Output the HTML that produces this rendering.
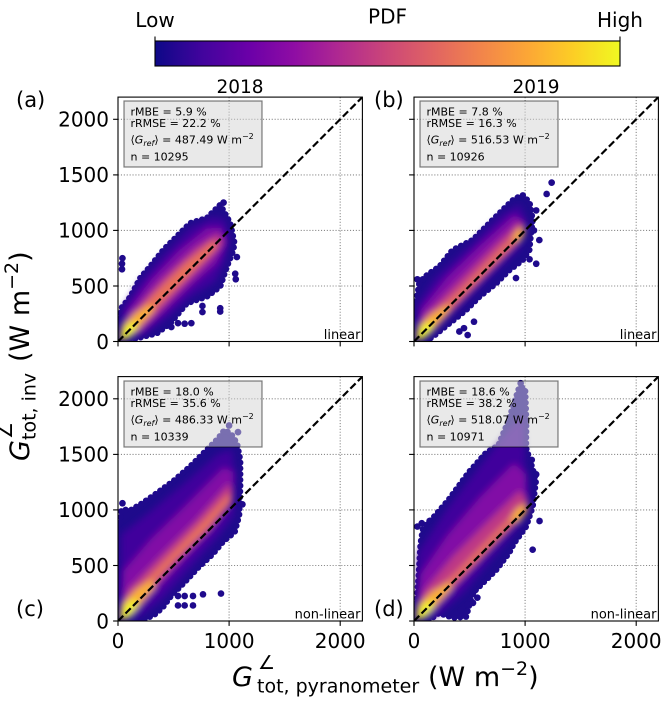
<!DOCTYPE html>
<html><head><meta charset="utf-8">
<style>
html,body{margin:0;padding:0;background:#fff;}
svg{display:block;}
text{font-family:"DejaVu Sans","Liberation Sans",sans-serif;fill:#000;}
.env{fill:#1f0a8c;stroke:#1f0a8c;stroke-width:20;stroke-linejoin:round;}
.edge{fill:none;stroke:#1f0a8c;stroke-width:58;stroke-dasharray:0 52;stroke-linecap:round;stroke-linejoin:round;}
.dot{fill:#1f0a8c;}
.l1{fill:#40039c;}
.l2{fill:#8108a6;}
.l3{fill:#bd3785;}
.l4{fill:#ea7256;}
.l5{fill:#fdb32f;}
.l6{fill:#f0f921;}
.grid{stroke:#8a8a8a;stroke-width:1.1;stroke-dasharray:1.1 1.8;fill:none;}
.spine{fill:none;stroke:#000;stroke-width:1.1;}
.tick{stroke:#000;stroke-width:1.1;}
.diag{stroke:#000;stroke-width:2.2;stroke-dasharray:7.4 3.2;fill:none;}
.box{fill:#d3d3d3;fill-opacity:0.5;stroke:#000;stroke-opacity:0.5;stroke-width:1.2;}
.st{font-size:11px;}
.tl{font-size:20px;}
</style></head>
<body>
<svg width="669" height="704" viewBox="0 0 669 704" xmlns="http://www.w3.org/2000/svg">
<defs>
<linearGradient id="plasma" x1="0" y1="0" x2="1" y2="0">
<stop offset="0" stop-color="#0d0887"/>
<stop offset="0.1" stop-color="#41049d"/>
<stop offset="0.2" stop-color="#6a00a8"/>
<stop offset="0.3" stop-color="#8f0da4"/>
<stop offset="0.4" stop-color="#b12a90"/>
<stop offset="0.5" stop-color="#cc4778"/>
<stop offset="0.6" stop-color="#e16462"/>
<stop offset="0.7" stop-color="#f2844b"/>
<stop offset="0.8" stop-color="#fca636"/>
<stop offset="0.9" stop-color="#fcce25"/>
<stop offset="1" stop-color="#f0f921"/>
</linearGradient>
<filter id="bl" x="-30%" y="-30%" width="160%" height="160%"><feGaussianBlur stdDeviation="30"/></filter>
<clipPath id="cA"><rect x="118" y="97.1" width="244.4" height="244.4"/></clipPath>
<clipPath id="cB"><rect x="414" y="97.1" width="244.4" height="244.4"/></clipPath>
<clipPath id="cC"><rect x="118" y="376.6" width="244.4" height="244.4"/></clipPath>
<clipPath id="cD"><rect x="414" y="376.6" width="244.4" height="244.4"/></clipPath>
</defs>

<!-- Colorbar -->
<rect x="155" y="41" width="465" height="25" fill="url(#plasma)" stroke="#000" stroke-width="1.1"/>
<line class="tick" x1="155" y1="36.5" x2="155" y2="41"/>
<line class="tick" x1="620" y1="36.5" x2="620" y2="41"/>
<text x="155" y="27" font-size="20" text-anchor="middle">Low</text>
<text x="620" y="27" font-size="20" text-anchor="middle">High</text>
<text x="387.5" y="23.5" font-size="20" text-anchor="middle">PDF</text>

<!-- Titles -->
<text x="240" y="93" font-size="18.5" text-anchor="middle">2018</text>
<text x="536" y="93" font-size="18.5" text-anchor="middle">2019</text>

<!-- Panel labels -->
<text x="16" y="107" font-size="21">(a)</text>
<text x="374" y="107" font-size="21">(b)</text>
<text x="16" y="616" font-size="21">(c)</text>
<text x="374" y="616" font-size="21">(d)</text>

<!-- ===== Panel A ===== -->
<g>
<line class="grid" x1="229.1" y1="97.1" x2="229.1" y2="341.5"/>
<line class="grid" x1="340.2" y1="97.1" x2="340.2" y2="341.5"/>
<line class="grid" x1="118" y1="286" x2="362.4" y2="286"/>
<line class="grid" x1="118" y1="230.4" x2="362.4" y2="230.4"/>
<line class="grid" x1="118" y1="174.9" x2="362.4" y2="174.9"/>
<line class="grid" x1="118" y1="119.3" x2="362.4" y2="119.3"/>
</g>
<g clip-path="url(#cA)">
<g transform="translate(118,341.5) scale(0.1111,-0.1111)">
<polygon class="env" points="0,0 0,80 30,300 110,400 200,570 290,675 410,825 530,945 650,1065 800,1110 920,1230 1010,1065 1045,900 1040,825 980,675 920,495 800,405 620,345 470,165 350,75 230,45 110,15"/>
<polygon class="edge" points="0,0 0,80 30,300 110,400 200,570 290,675 410,825 530,945 650,1065 800,1110 920,1230 1010,1065 1045,900 1040,825 980,675 920,495 800,405 620,345 470,165 350,75 230,45 110,15"/>
<circle class="dot" cx="36" cy="650" r="30"/><circle class="dot" cx="36" cy="700" r="30"/><circle class="dot" cx="40" cy="750" r="30"/>
<circle class="dot" cx="540" cy="165" r="30"/><circle class="dot" cx="600" cy="160" r="30"/><circle class="dot" cx="660" cy="165" r="30"/>
<circle class="dot" cx="760" cy="265" r="30"/><circle class="dot" cx="760" cy="320" r="30"/><circle class="dot" cx="920" cy="300" r="30"/>
<circle class="dot" cx="920" cy="270" r="30"/><circle class="dot" cx="1055" cy="610" r="30"/><circle class="dot" cx="1060" cy="560" r="30"/>
<circle class="dot" cx="950" cy="1250" r="30"/><circle class="dot" cx="480" cy="130" r="30"/><circle class="dot" cx="1070" cy="760" r="30"/>
<g filter="url(#bl)">
<polygon class="l1" points="20,20 40,290 200,540 420,790 650,1020 850,1120 960,1100 1000,930 960,720 870,540 650,400 450,220 250,70"/>
<polygon class="l2" points="30,30 90,270 300,560 550,820 800,1020 930,1020 970,880 880,700 650,500 420,280 200,80"/>
<polygon class="l3" points="40,40 140,260 400,560 700,840 900,970 950,900 830,750 550,470 300,210 120,60"/>
<polygon class="l4" points="40,30 110,180 300,400 600,700 860,910 900,860 680,640 360,320 160,100"/>
<polygon class="l5" points="15,10 40,130 150,250 280,330 330,290 200,150 80,25"/>
<polygon class="l6" points="20,15 60,130 150,180 180,140 90,30"/>
</g>
</g>
<line class="diag" x1="118" y1="341.5" x2="362.4" y2="97.1"/>
</g>
<rect class="spine" x="118" y="97.1" width="244.4" height="244.4"/>
<g class="tick">
<line x1="113.1" y1="341.5" x2="118" y2="341.5"/><line x1="113.1" y1="286" x2="118" y2="286"/><line x1="113.1" y1="230.4" x2="118" y2="230.4"/><line x1="113.1" y1="174.9" x2="118" y2="174.9"/><line x1="113.1" y1="119.3" x2="118" y2="119.3"/>
<line x1="118" y1="341.5" x2="118" y2="346.4"/><line x1="229.1" y1="341.5" x2="229.1" y2="346.4"/><line x1="340.2" y1="341.5" x2="340.2" y2="346.4"/>
</g>
<g class="tl" text-anchor="end">
<text x="109" y="348.8">0</text><text x="109" y="293.3">500</text><text x="109" y="237.7">1000</text><text x="109" y="182.2">1500</text><text x="109" y="126.6">2000</text>
</g>
<rect class="box" x="124" y="101" width="138" height="66"/>
<text class="st" x="130.5" y="115.5">rMBE = 5.9 %</text>
<text class="st" x="130.5" y="127">rRMSE = 22.2 %</text>
<text class="st" x="130.5" y="143.5">⟨<tspan font-style="italic">G</tspan><tspan font-style="italic" font-size="8" dy="2.5">ref</tspan><tspan dy="-2.5">⟩ = 487.49 W m</tspan><tspan font-size="8" dy="-4.5">−2</tspan></text>
<text class="st" x="130.5" y="160.5">n = 10295</text>
<text x="360.5" y="339" font-size="13" text-anchor="end">linear</text>

<!-- ===== Panel B ===== -->
<g>
<line class="grid" x1="525.1" y1="97.1" x2="525.1" y2="341.5"/>
<line class="grid" x1="636.2" y1="97.1" x2="636.2" y2="341.5"/>
<line class="grid" x1="414" y1="286" x2="658.4" y2="286"/>
<line class="grid" x1="414" y1="230.4" x2="658.4" y2="230.4"/>
<line class="grid" x1="414" y1="174.9" x2="658.4" y2="174.9"/>
<line class="grid" x1="414" y1="119.3" x2="658.4" y2="119.3"/>
</g>
<g clip-path="url(#cB)">
<g transform="translate(414,341.5) scale(0.1111,-0.1111)">
<polygon class="env" points="0,0 0,200 18,346 48,524 120,600 228,673 348,823 528,913 648,1033 828,1213 900,1280 978,1318 1040,1250 1068,1093 1050,950 1038,823 978,733 858,643 738,523 588,403 468,283 318,163 168,43 100,0"/>
<polygon class="edge" points="0,0 0,200 18,346 48,524 120,600 228,673 348,823 528,913 648,1033 828,1213 900,1280 978,1318 1040,1250 1068,1093 1050,950 1038,823 978,733 858,643 738,523 588,403 468,283 318,163 168,43 100,0"/>
<circle class="dot" cx="1239" cy="1430" r="30"/><circle class="dot" cx="1194" cy="1328" r="30"/><circle class="dot" cx="1128" cy="913" r="30"/>
<circle class="dot" cx="1100" cy="1180" r="30"/><circle class="dot" cx="1040" cy="740" r="30"/><circle class="dot" cx="918" cy="571" r="30"/>
<circle class="dot" cx="540" cy="178" r="30"/><circle class="dot" cx="483" cy="58" r="30"/><circle class="dot" cx="408" cy="90" r="30"/>
<circle class="dot" cx="450" cy="120" r="30"/><circle class="dot" cx="30" cy="560" r="30"/><circle class="dot" cx="80" cy="560" r="30"/>
<circle class="dot" cx="1080" cy="1000" r="30"/><circle class="dot" cx="1100" cy="700" r="30"/>
<g filter="url(#bl)">
<polygon class="l1" points="20,20 40,350 200,580 500,860 800,1150 950,1230 1010,1100 960,850 700,600 420,320 150,60"/>
<polygon class="l2" points="30,30 60,280 300,580 600,870 900,1140 1000,1060 910,860 620,560 320,260 110,60"/>
<polygon class="l3" points="40,40 90,220 400,540 700,840 950,1080 1000,1000 820,790 520,480 220,170 90,40"/>
<polygon class="l4" points="40,30 140,210 450,500 800,860 960,1020 990,960 720,690 370,330 140,80"/>
<polygon class="l5" points="15,10 40,130 160,250 300,330 320,290 200,150 80,25"/>
<polygon class="l5" points="880,920 930,1010 990,1020 990,960 930,900"/>
<polygon class="l6" points="20,15 60,130 150,180 180,140 90,30"/>
</g>
</g>
<line class="diag" x1="414" y1="341.5" x2="658.4" y2="97.1"/>
</g>
<rect class="spine" x="414" y="97.1" width="244.4" height="244.4"/>
<g class="tick">
<line x1="409.1" y1="341.5" x2="414" y2="341.5"/><line x1="409.1" y1="286" x2="414" y2="286"/><line x1="409.1" y1="230.4" x2="414" y2="230.4"/><line x1="409.1" y1="174.9" x2="414" y2="174.9"/><line x1="409.1" y1="119.3" x2="414" y2="119.3"/>
<line x1="414" y1="341.5" x2="414" y2="346.4"/><line x1="525.1" y1="341.5" x2="525.1" y2="346.4"/><line x1="636.2" y1="341.5" x2="636.2" y2="346.4"/>
</g>
<rect class="box" x="420" y="101" width="138" height="66"/>
<text class="st" x="426.5" y="115.5">rMBE = 7.8 %</text>
<text class="st" x="426.5" y="127">rRMSE = 16.3 %</text>
<text class="st" x="426.5" y="143.5">⟨<tspan font-style="italic">G</tspan><tspan font-style="italic" font-size="8" dy="2.5">ref</tspan><tspan dy="-2.5">⟩ = 516.53 W m</tspan><tspan font-size="8" dy="-4.5">−2</tspan></text>
<text class="st" x="426.5" y="160.5">n = 10926</text>
<text x="656.5" y="339" font-size="13" text-anchor="end">linear</text>

<!-- ===== Panel C ===== -->
<g>
<line class="grid" x1="229.1" y1="376.6" x2="229.1" y2="621"/>
<line class="grid" x1="340.2" y1="376.6" x2="340.2" y2="621"/>
<line class="grid" x1="118" y1="565.5" x2="362.4" y2="565.5"/>
<line class="grid" x1="118" y1="509.9" x2="362.4" y2="509.9"/>
<line class="grid" x1="118" y1="454.4" x2="362.4" y2="454.4"/>
<line class="grid" x1="118" y1="398.8" x2="362.4" y2="398.8"/>
</g>
<g clip-path="url(#cC)">
<g transform="translate(118,621) scale(0.1111,-0.1111)">
<polygon class="env" points="0,0 0,700 30,1000 120,1000 220,1060 350,1150 500,1260 650,1390 750,1490 830,1570 900,1640 960,1720 1020,1680 1070,1600 1100,1450 1100,1200 1090,950 1050,800 950,720 850,600 720,480 600,350 480,230 400,120 330,60 250,20 150,0"/>
<polygon class="edge" points="0,0 0,700 30,1000 120,1000 220,1060 350,1150 500,1260 650,1390 750,1490 830,1570 900,1640 960,1720 1020,1680 1070,1600 1100,1450 1100,1200 1090,950 1050,800 950,720 850,600 720,480 600,350 480,230 400,120 330,60 250,20 150,0"/>
<circle class="dot" cx="540" cy="140" r="30"/><circle class="dot" cx="600" cy="140" r="30"/><circle class="dot" cx="675" cy="140" r="30"/>
<circle class="dot" cx="540" cy="225" r="30"/><circle class="dot" cx="600" cy="225" r="30"/><circle class="dot" cx="675" cy="225" r="30"/>
<circle class="dot" cx="765" cy="240" r="30"/><circle class="dot" cx="927" cy="247" r="30"/><circle class="dot" cx="40" cy="1060" r="30"/>
<circle class="dot" cx="1120" cy="1050" r="30"/><circle class="dot" cx="1080" cy="1700" r="30"/><circle class="dot" cx="1000" cy="1760" r="30"/>
<g filter="url(#bl)">
<polygon class="l1" points="20,20 30,780 300,990 600,1240 900,1500 1020,1540 1060,1300 1040,950 900,760 650,480 400,200 200,40"/>
<polygon class="l2" points="30,30 50,450 300,740 600,1030 950,1380 1040,1340 1020,1080 850,830 600,560 350,280 120,60"/>
<polygon class="l3" points="40,40 90,280 400,600 700,900 1000,1240 1030,1150 850,880 600,620 350,350 120,80"/>
<polygon class="l4" points="40,40 120,230 400,520 750,880 1000,1150 1015,1080 800,820 500,530 250,250 110,70"/>
<polygon class="l5" points="15,10 40,150 170,290 310,370 330,310 200,160 80,25"/>
<polygon class="l6" points="20,15 60,140 150,200 180,150 90,30"/>
</g>
</g>
<line class="diag" x1="118" y1="621" x2="362.4" y2="376.6"/>
</g>
<rect class="spine" x="118" y="376.6" width="244.4" height="244.4"/>
<g class="tick">
<line x1="113.1" y1="621" x2="118" y2="621"/><line x1="113.1" y1="565.5" x2="118" y2="565.5"/><line x1="113.1" y1="509.9" x2="118" y2="509.9"/><line x1="113.1" y1="454.4" x2="118" y2="454.4"/><line x1="113.1" y1="398.8" x2="118" y2="398.8"/>
<line x1="118" y1="621" x2="118" y2="625.9"/><line x1="229.1" y1="621" x2="229.1" y2="625.9"/><line x1="340.2" y1="621" x2="340.2" y2="625.9"/>
</g>
<g class="tl" text-anchor="end">
<text x="109" y="628.3">0</text><text x="109" y="572.8">500</text><text x="109" y="517.2">1000</text><text x="109" y="461.7">1500</text><text x="109" y="406.1">2000</text>
</g>
<g class="tl" text-anchor="middle">
<text x="118" y="648">0</text><text x="229.1" y="648">1000</text><text x="340.2" y="648">2000</text>
</g>
<rect class="box" x="124" y="381" width="138" height="66"/>
<text class="st" x="130.5" y="395.5">rMBE = 18.0 %</text>
<text class="st" x="130.5" y="407">rRMSE = 35.6 %</text>
<text class="st" x="130.5" y="423.5">⟨<tspan font-style="italic">G</tspan><tspan font-style="italic" font-size="8" dy="2.5">ref</tspan><tspan dy="-2.5">⟩ = 486.33 W m</tspan><tspan font-size="8" dy="-4.5">−2</tspan></text>
<text class="st" x="130.5" y="440.5">n = 10339</text>
<text x="360.5" y="618.5" font-size="13" text-anchor="end">non-linear</text>

<!-- ===== Panel D ===== -->
<g>
<line class="grid" x1="525.1" y1="376.6" x2="525.1" y2="621"/>
<line class="grid" x1="636.2" y1="376.6" x2="636.2" y2="621"/>
<line class="grid" x1="414" y1="565.5" x2="658.4" y2="565.5"/>
<line class="grid" x1="414" y1="509.9" x2="658.4" y2="509.9"/>
<line class="grid" x1="414" y1="454.4" x2="658.4" y2="454.4"/>
<line class="grid" x1="414" y1="398.8" x2="658.4" y2="398.8"/>
</g>
<g clip-path="url(#cD)">
<g transform="translate(414,621) scale(0.1111,-0.1111)">
<polygon class="env" points="0,0 0,120 27,189 45,459 60,700 81,830 200,960 315,1095 495,1340 648,1512 760,1580 850,1800 950,2110 1000,2090 1010,1800 1008,1560 1098,1269 1068,1029 1008,849 900,700 855,612 738,459 528,252 468,39 350,30 225,72 150,20 100,0"/>
<polygon class="edge" points="0,0 0,120 27,189 45,459 60,700 81,830 200,960 315,1095 495,1340 648,1512 760,1580 850,1800 950,2110 1000,2090 1010,1800 1008,1560 1098,1269 1068,1029 1008,849 900,700 855,612 738,459 528,252 468,39 350,30 225,72 150,20 100,0"/>
<circle class="dot" cx="531" cy="163" r="30"/><circle class="dot" cx="531" cy="252" r="30"/><circle class="dot" cx="570" cy="210" r="30"/>
<circle class="dot" cx="480" cy="150" r="30"/><circle class="dot" cx="420" cy="100" r="30"/><circle class="dot" cx="1068" cy="642" r="30"/>
<circle class="dot" cx="1130" cy="900" r="30"/><circle class="dot" cx="1100" cy="1320" r="30"/><circle class="dot" cx="1060" cy="1450" r="30"/>
<circle class="dot" cx="30" cy="850" r="30"/><circle class="dot" cx="70" cy="880" r="30"/><circle class="dot" cx="140" cy="900" r="30"/>
<circle class="dot" cx="960" cy="2140" r="30"/>
<g filter="url(#bl)">
<polygon class="l1" points="20,20 40,620 300,1010 600,1400 850,1720 980,1850 1000,1400 1040,1100 950,850 700,560 450,260 200,40"/>
<polygon class="l2" points="30,30 60,420 300,770 600,1120 900,1420 1010,1320 1000,1050 800,800 550,500 300,220 120,50"/>
<polygon class="l3" points="40,40 90,270 350,580 650,880 950,1170 1020,1090 850,880 550,550 300,280 120,70"/>
<polygon class="l4" points="40,30 120,190 400,460 750,820 1000,1070 1030,1010 800,780 450,420 200,170 90,40"/>
<polygon class="l5" points="15,10 40,140 170,270 320,350 340,300 200,150 80,25"/>
<polygon class="l5" points="860,900 920,1010 1000,1050 1010,980 940,900"/>
<polygon class="l6" points="20,15 60,130 150,190 180,140 90,30"/>
</g>
</g>
<line class="diag" x1="414" y1="621" x2="658.4" y2="376.6"/>
</g>
<rect class="spine" x="414" y="376.6" width="244.4" height="244.4"/>
<g class="tick">
<line x1="409.1" y1="621" x2="414" y2="621"/><line x1="409.1" y1="565.5" x2="414" y2="565.5"/><line x1="409.1" y1="509.9" x2="414" y2="509.9"/><line x1="409.1" y1="454.4" x2="414" y2="454.4"/><line x1="409.1" y1="398.8" x2="414" y2="398.8"/>
<line x1="414" y1="621" x2="414" y2="625.9"/><line x1="525.1" y1="621" x2="525.1" y2="625.9"/><line x1="636.2" y1="621" x2="636.2" y2="625.9"/>
</g>
<g class="tl" text-anchor="middle">
<text x="414" y="648">0</text><text x="525.1" y="648">1000</text><text x="636.2" y="648">2000</text>
</g>
<rect class="box" x="420" y="381" width="138" height="66"/>
<text class="st" x="426.5" y="395.5">rMBE = 18.6 %</text>
<text class="st" x="426.5" y="407">rRMSE = 38.2 %</text>
<text class="st" x="426.5" y="423.5">⟨<tspan font-style="italic">G</tspan><tspan font-style="italic" font-size="8" dy="2.5">ref</tspan><tspan dy="-2.5">⟩ = 518.07 W m</tspan><tspan font-size="8" dy="-4.5">−2</tspan></text>
<text class="st" x="426.5" y="440.5">n = 10971</text>
<text x="656.5" y="618.5" font-size="13" text-anchor="end">non-linear</text>

<!-- X label -->
<text x="232" y="686" font-size="27" font-style="italic">G</text>
<text x="258" y="669" font-size="19">∠</text>
<text x="257" y="692.5" font-size="19">tot, pyranometer</text>
<text x="428" y="686" font-size="27">(W m<tspan dy="-11" font-size="19">−2</tspan><tspan dy="11">)</tspan></text>

<!-- Y label -->
<g transform="translate(29,461) rotate(-90)">
<text x="0" y="0" font-size="27" font-style="italic">G</text>
<text x="22" y="-17" font-size="19">∠</text>
<text x="21" y="6.5" font-size="19">tot, inv</text>
<text x="99" y="0" font-size="27">(W m<tspan dy="-11" font-size="19">−2</tspan><tspan dy="11">)</tspan></text>
</g>
</svg>
</body></html>
